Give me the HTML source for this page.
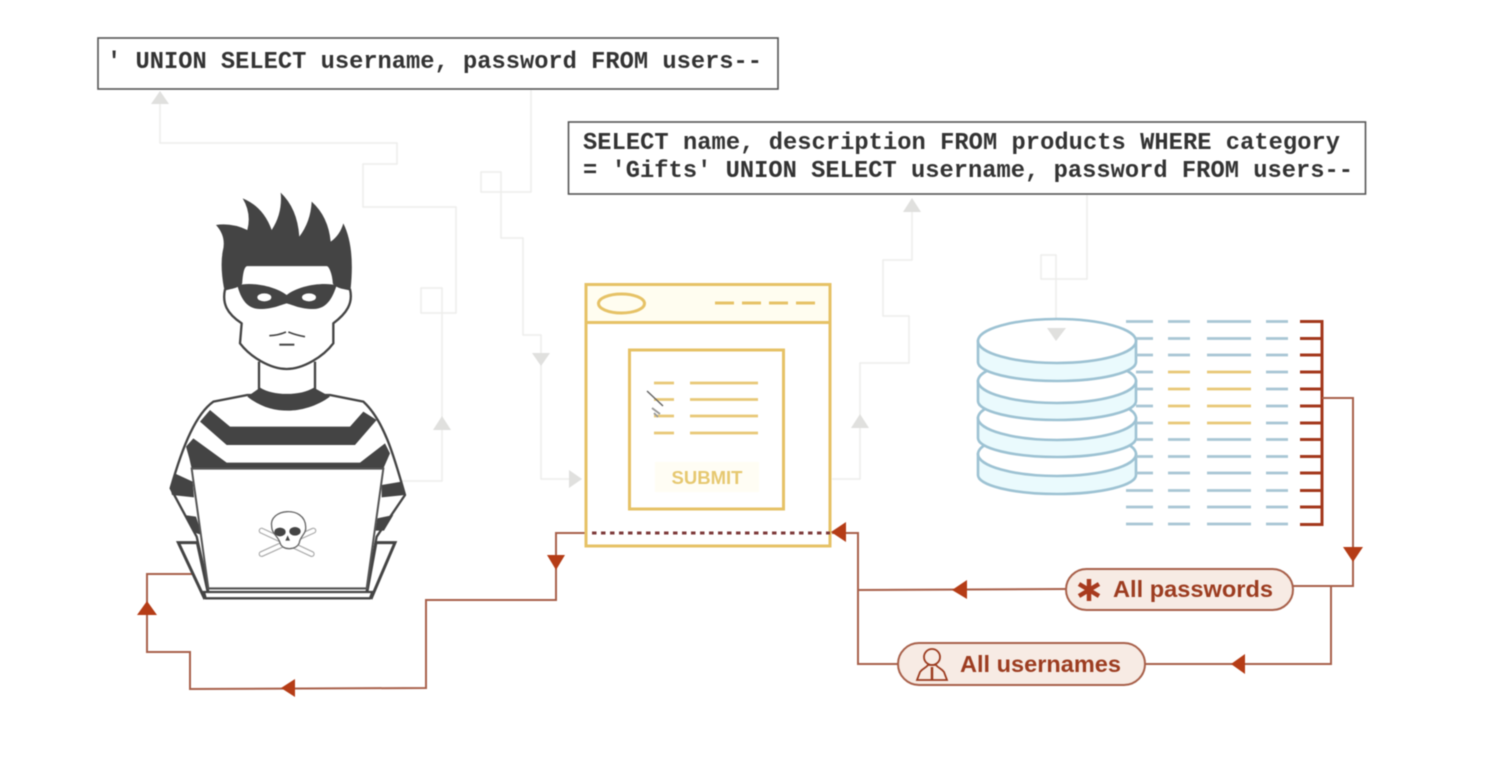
<!DOCTYPE html>
<html>
<head>
<meta charset="utf-8">
<style>
html,body{margin:0;padding:0;background:#fff;width:1500px;height:770px;overflow:hidden}
svg{display:block;filter:blur(.4px)}
.code{font-family:"Liberation Mono",monospace;font-weight:bold;font-size:23.7px;fill:#333}
.g{fill:none;stroke:#eeeeec;stroke-width:1.5}
.ga{fill:#e0e0de}
.r{fill:none;stroke:#a8604a;stroke-width:2}
.ra{fill:#b53c16}
.y{stroke:#e6c266;stroke-width:3;fill:none}
.b{stroke:#a8c6d4;stroke-width:2.8;fill:none}
.yl{stroke:#e8c877;stroke-width:2.8;fill:none}
.rd{stroke:#a3381c;stroke-width:3;fill:none}
.disc{stroke:#9dc2d3;stroke-width:2.6}
.pl{font-family:"Liberation Sans",sans-serif;font-weight:bold;font-size:23.5px;fill:#9c3c20}
</style>
</head>
<body>
<svg width="1500" height="770" viewBox="0 0 1500 770" xmlns="http://www.w3.org/2000/svg">
<rect width="1500" height="770" fill="#fff"/>

<!-- faint connectors -->
<path class="g" d="M160,100V143H397V164H363V207H456V313H421V288H442V481H390"/>
<path class="g" d="M531,90V192H481V172H501V238H523V335H541V479H572"/>
<path class="g" d="M832,479H860V363H909V316H883V260H912V208"/>
<path class="g" d="M1087,195V279H1041V255H1056V330"/>
<path class="ga" d="M160,91L169,104H151Z"/>
<path class="ga" d="M442,416L451,430H433Z"/>
<path class="ga" d="M541,366L532,353H550Z"/>
<path class="ga" d="M582,479L569,470V488Z"/>
<path class="ga" d="M860,414L869,428H851Z"/>
<path class="ga" d="M912,198L921,212H903Z"/>

<!-- text boxes -->
<rect x="98" y="38" width="680" height="51" fill="#fff" stroke="#555" stroke-width="1.6"/>
<text class="code" x="107" y="68" textLength="655" lengthAdjust="spacing">' UNION SELECT username, password FROM users--</text>
<rect x="568.500" y="122" width="797" height="72" fill="#fff" stroke="#555" stroke-width="1.6"/>
<text class="code" x="583" y="149" textLength="757" lengthAdjust="spacing">SELECT name, description FROM products WHERE category</text>
<text class="code" x="583" y="177" textLength="770" lengthAdjust="spacing">= 'Gifts' UNION SELECT username, password FROM users--</text>

<!-- red connectors left -->
<path class="r" d="M586,533H556V600H426V688L190,689V652H147V574H192"/>
<path class="ra" d="M547,555H565L556,570Z"/>
<path class="ra" d="M281,688L295,679V697Z"/>
<path class="ra" d="M147,601L157,615H137Z"/>

<!-- hacker -->
<g transform="translate(160,180) scale(.33333)">
  <!-- body -->
  <path d="M262,645L160,665C110,700 70,790 32,925L110,1070L145,1225H620L650,1070L735,945C700,820 670,720 610,665L510,645Z" fill="#fff" stroke="#444" stroke-width="7" stroke-linejoin="round"/>
  <path fill="#444" d="M120,725L150,690L210,740H570L610,695L650,720L585,795H200Z"/>
  <path fill="#444" d="M78,800L100,775L200,848H600L675,790L690,820L670,866H95L88,835Z"/>
  <path fill="#444" d="M30,920L44,880L98,905L102,952L36,945Z"/>
  <path fill="#444" d="M72,1005L108,1010L126,1065L104,1058Z"/>
  <path fill="#444" d="M665,915L725,905L735,945L665,952Z"/>
  <path fill="#444" d="M652,1015L700,1005L672,1052L646,1052Z"/>
  <!-- neck -->
  <path d="M297,545V625C340,652 420,652 465,625V545" fill="#fff" stroke="#444" stroke-width="7"/>
  <path fill="#444" d="M262,650L297,625C340,652 420,652 465,625L510,650C470,680 420,692 385,692C340,692 300,680 262,650Z"/>
  <!-- hair -->
  <path fill="#444" d="M168,135Q215,128 262,150Q275,100 248,55Q310,80 335,150Q368,100 362,38Q412,85 418,170Q452,125 455,65Q505,110 512,185Q540,165 550,130Q585,200 572,325H192Q180,260 188,215Q200,170 168,135Z"/>
  <!-- face -->
  <path d="M195,328C186,370 200,400 245,430L240,490C270,530 330,567 380,567C430,567 490,530 520,490V430C560,400 580,370 570,328C545,322 535,322 522,310C520,280 510,255 500,255H262C250,255 245,280 243,310C230,322 215,322 195,328Z" fill="#fff" stroke="#444" stroke-width="7" stroke-linejoin="round"/>
  <path fill="#444" d="M232,316C275,305 345,318 380,345C415,318 485,305 530,316C520,345 505,387 460,387C420,387 400,375 380,370C360,375 340,387 300,387C255,387 240,345 232,316Z"/>
  <ellipse cx="313" cy="352" rx="21" ry="12" fill="#fff"/>
  <ellipse cx="447" cy="352" rx="21" ry="12" fill="#fff"/>
  <path d="M328,467Q355,466 378,456M385,456Q410,466 435,470" fill="none" stroke="#444" stroke-width="5"/>
  <path d="M358,494H403" stroke="#444" stroke-width="6"/>
  <!-- laptop -->
  <path d="M55,1088H112L145,1240L132,1252Z" fill="#fff" stroke="#444" stroke-width="9"/>
  <path d="M705,1088H648L620,1240L635,1252Z" fill="#fff" stroke="#444" stroke-width="9"/>
  <path d="M95,866H670L620,1225H145Z" fill="#fff" stroke="#555" stroke-width="6"/>
  <path d="M132,1236H637L630,1255H137Z" fill="#fff" stroke="#444" stroke-width="7"/>
  <!-- skull -->
  <path d="M305,1052L455,1122M460,1052L305,1122" stroke="#aaa" stroke-width="18" stroke-linecap="round" fill="none"/>
  <path d="M305,1052L455,1122M460,1052L305,1122" stroke="#fff" stroke-width="11" stroke-linecap="round" fill="none"/>
  <path d="M335,1040C325,985 435,975 437,1040C440,1060 420,1070 418,1088C410,1112 365,1112 360,1088C355,1070 335,1060 335,1040Z" fill="#fff" stroke="#666" stroke-width="4"/>
  <ellipse cx="360" cy="1056" rx="17" ry="13" fill="#444"/>
  <ellipse cx="405" cy="1054" rx="17" ry="13" fill="#444"/>
  <path d="M383,1066L376,1082H390Z" fill="#444"/>
</g>

<!-- browser -->
<rect x="586" y="284.500" width="244" height="38" fill="#fffdf0"/>
<rect x="586" y="284.500" width="244" height="261.500" class="y"/>
<path class="y" d="M586,322.500H830"/>
<ellipse cx="621.500" cy="303.500" rx="23" ry="9.500" class="y"/>
<path class="y" d="M715,303H734M742,303H761M769,303H788M796,303H815"/>
<rect x="629.500" y="350" width="154" height="159" class="y"/>
<g class="yl">
  <path d="M654,383H674M690,383H758M654,399.500H674M690,399.500H758M654,416H674M690,416H758M654,433H674M690,433H758"/>
</g>
<rect x="655" y="462" width="104" height="30" fill="#fffdf4"/>
<text x="707" y="484" text-anchor="middle" font-family="Liberation Sans, sans-serif" font-weight="bold" font-size="18.500" fill="#e6c870">SUBMIT</text>
<path d="M647,391L663,406" stroke="#666" stroke-width="1.500"/>
<path d="M652,408L660,414M654,413L658,417" stroke="#999" stroke-width="1.800"/>
<path d="M592,533H830" stroke="#7d3a3a" stroke-width="3" stroke-dasharray="4.500,4.500"/>

<!-- database -->
<g class="disc">
  <path d="M978,454V475A79,19 0 0 0 1136,475V454Z" fill="#eafafd"/>
  <ellipse cx="1057" cy="454" rx="79" ry="22" fill="#fff"/>
  <path d="M978,418V438A79,19 0 0 0 1136,438V418Z" fill="#eafafd"/>
  <ellipse cx="1057" cy="418" rx="79" ry="22" fill="#fff"/>
  <path d="M978,381V401A79,19 0 0 0 1136,401V381Z" fill="#eafafd"/>
  <ellipse cx="1057" cy="381" rx="79" ry="22" fill="#fff"/>
  <path d="M978,341V362A79,19 0 0 0 1136,362V341Z" fill="#eafafd"/>
  <ellipse cx="1057" cy="341" rx="79" ry="22" fill="#fff"/>
</g>
<path class="ga" d="M1047,328H1066L1056,341Z"/>

<!-- data rows -->
<g class="b">
  <path d="M1126,321.500H1153M1168,321.500H1190M1207,321.500H1251M1266,321.500H1288"/>
  <path d="M1136,338.500H1153M1168,338.500H1190M1207,338.500H1251M1266,338.500H1288"/>
  <path d="M1136,355H1153M1168,355H1190M1207,355H1251M1266,355H1288"/>
  <path d="M1136,372H1153M1266,372H1288"/>
  <path d="M1136,389H1153M1266,389H1288"/>
  <path d="M1136,406H1153M1266,406H1288"/>
  <path d="M1136,423H1153M1266,423H1288"/>
  <path d="M1136,439.500H1153M1168,439.500H1190M1207,439.500H1251M1266,439.500H1288"/>
  <path d="M1136,456.500H1153M1168,456.500H1190M1207,456.500H1251M1266,456.500H1288"/>
  <path d="M1136,473H1153M1168,473H1190M1207,473H1251M1266,473H1288"/>
  <path d="M1126,490.500H1153M1168,490.500H1190M1207,490.500H1251M1266,490.500H1288"/>
  <path d="M1126,507H1153M1168,507H1190M1207,507H1251M1266,507H1288"/>
  <path d="M1126,524H1153M1168,524H1190M1207,524H1251M1266,524H1288"/>
</g>
<g class="yl">
  <path d="M1168,372H1190M1207,372H1251M1168,389H1190M1207,389H1251M1168,406H1190M1207,406H1251M1168,423H1190M1207,423H1251"/>
</g>
<g class="rd">
  <path d="M1300,321.500H1322V524.500H1300"/>
  <path d="M1300,338.500H1322M1300,355H1322M1300,372H1322M1300,389H1322M1300,406H1322M1300,423H1322M1300,439.500H1322M1300,456.500H1322M1300,473H1322M1300,490.500H1322M1300,507H1322"/>
</g>

<!-- red connectors right -->
<path class="r" d="M1322,398H1353V586H1293"/>
<path class="ra" d="M1343,547H1363L1353,562Z"/>
<path class="r" d="M1331,587V664H1145"/>
<path class="ra" d="M1231,664L1245,654V674Z"/>
<path class="r" d="M1066,589L858,590"/>
<path class="ra" d="M952,590L967,580V599Z"/>
<path class="r" d="M832,533H858V664H898"/>
<path class="ra" d="M831,532L846,522V542Z"/>

<!-- pills -->
<rect x="1066" y="569" width="227" height="41" rx="20.500" fill="#f7ebe4" stroke="#a8604a" stroke-width="2"/>
<path d="M1089,579V601M1079,584L1099,596M1099,584L1079,596" stroke="#a83a1e" stroke-width="4.500" fill="none"/>
<text class="pl" x="1113" y="597" textLength="160" lengthAdjust="spacingAndGlyphs">All passwords</text>
<rect x="898" y="643" width="247" height="42" rx="21" fill="#f7ebe4" stroke="#a8604a" stroke-width="2"/>
<circle cx="932" cy="657" r="8" fill="none" stroke="#9c3c20" stroke-width="1.800"/>
<path d="M917,680L920,672C923,668 926,668 928,665H936C938,668 941,668 944,672L947,680Z" fill="none" stroke="#9c3c20" stroke-width="1.800"/>
<path d="M932,667V680" stroke="#9c3c20" stroke-width="2.500"/>
<text class="pl" x="960" y="672" textLength="161" lengthAdjust="spacingAndGlyphs">All usernames</text>
</svg>
</body>
</html>
